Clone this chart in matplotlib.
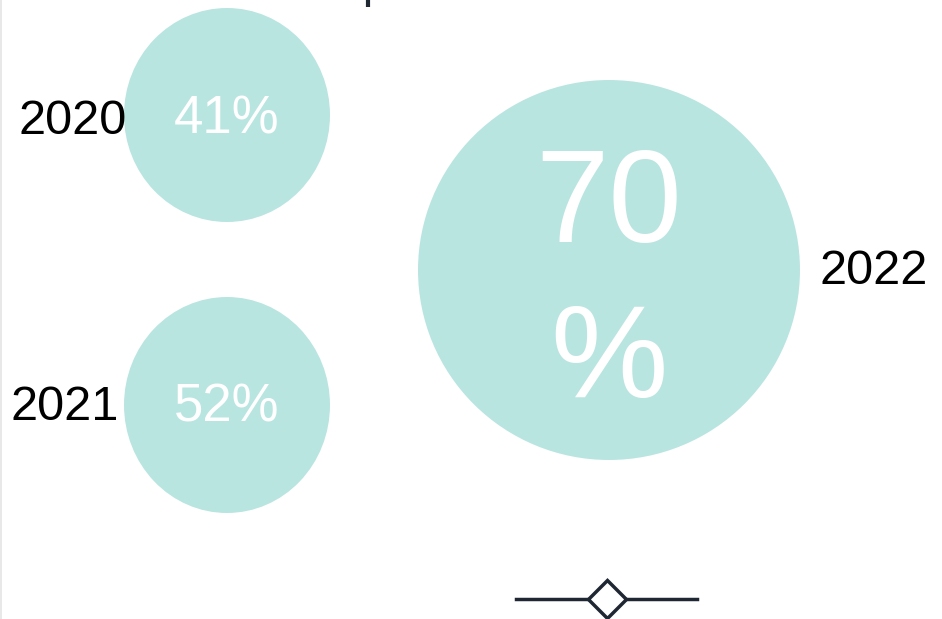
import matplotlib.pyplot as plt
from matplotlib.patches import Ellipse

years = ["2020", "2021", "2022"]
shares = [41, 52, 70]
share_labels = ["41%", "52%", "70\n%"]

plt.rcParams['font.family'] = ['Liberation Sans', 'DejaVu Sans']

fig = plt.figure(figsize=(9.42, 6.19), dpi=100)
ax = fig.add_axes([0, 0, 1, 1])
ax.set_xlim(0, 942)
ax.set_ylim(619, 0)
ax.axis('off')

teal = '#b9e5e1'
navy = '#1f2733'

# bubble layout (pixel space)
centers = [(227, 115), (227, 405), (609, 270)]
radii = [(103, 107), (103, 108), (191, 190)]
label_pos = [(127, 121, 'right'), (119, 407, 'right'), (820, 272, 'left')]
pct_size = [38, 38, 95]
pct_y = [120, 408, 285]

for yr, lab, (cx, cy), (rx, ry), (lx, ly, ha), fs, py in zip(
        years, share_labels, centers, radii, label_pos, pct_size, pct_y):
    ax.add_patch(Ellipse((cx, cy), 2 * rx, 2 * ry, color=teal, lw=0))
    ax.text(cx, py, lab, color='white', fontsize=fs, ha='center',
            va='center', linespacing=1.33)
    ax.text(lx, ly, yr, color='black', fontsize=35, ha=ha, va='center')

# cut-off title stroke at the top
ax.plot([368, 368], [0, 7], color=navy, lw=3, solid_capstyle='butt')

# left border
ax.plot([0.8, 0.8], [0, 619], color='#e4e4e4', lw=1.2)

# legend-like handle at the bottom
ax.plot([516, 697], [599, 599], color=navy, lw=2.5)
ax.plot([607], [599], marker='D', ms=19, mfc='white', mec=navy, mew=2.5)

fig.savefig('out.png', dpi=100)
